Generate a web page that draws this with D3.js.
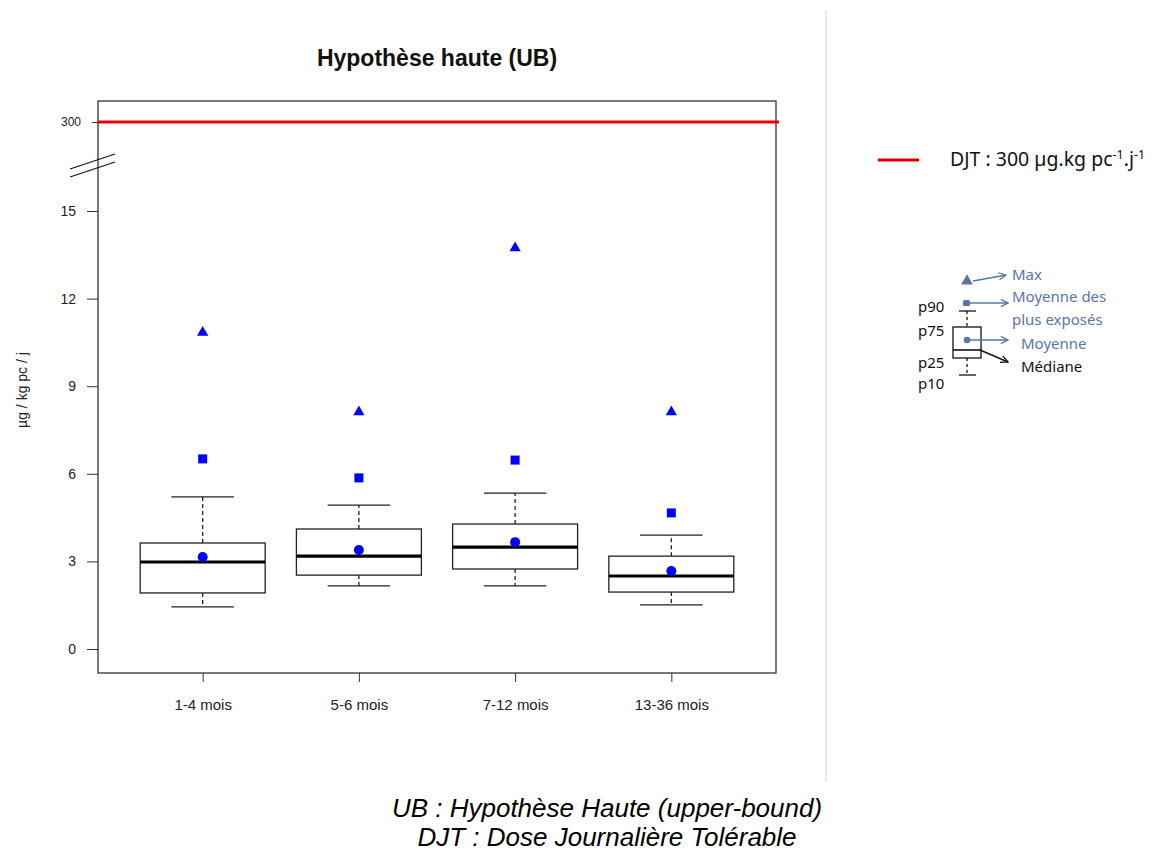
<!DOCTYPE html>
<html>
<head>
<meta charset="utf-8">
<script src="https://cdn.jsdelivr.net/npm/d3@7"></script>
<style>
  body { margin: 0; background: #fff; }
  svg { display: block; }
</style>
</head>
<body>
<div id="chart"></div>
<script>
// values (µg / kg pc / j)
const categories = ["1-4 mois", "5-6 mois", "7-12 mois", "13-36 mois"];
const p10 = [1.44, 2.16, 2.16, 1.51];
const p25 = [1.92, 2.53, 2.74, 1.95];
const median = [2.98, 3.18, 3.49, 2.50];
const p75 = [3.63, 4.11, 4.28, 3.18];
const p90 = [5.21, 4.93, 5.34, 3.90];
const moyenne = [3.15, 3.39, 3.66, 2.67];
const moyennePlusExposes = [6.51, 5.86, 6.47, 4.66];
const maxValues = [10.84, 8.12, 13.73, 8.12];
const yTicks = [0, 3, 6, 9, 12, 15];
const djt = 300;

const width = 1157, height = 851;
const plotLeft = 98, plotRight = 776, plotTop = 101, plotBottom = 673;

const svg = d3.select("#chart").append("svg")
    .attr("width", width)
    .attr("height", height)
    .style("font-family", "'Liberation Sans', Arial, sans-serif");

const x = d3.scalePoint()
    .domain(categories)
    .range([plotLeft, plotRight])
    .padding(0.67);

// broken axis: 0-15 linear, then a jump up to 300
const y = d3.scaleLinear()
    .domain([0, 15, djt])
    .range([649, 211, 122]);

const boxW = x.step() * 0.8;

// title
svg.append("text")
    .attr("x", (plotLeft + plotRight) / 2)
    .attr("y", 66)
    .attr("text-anchor", "middle")
    .attr("font-weight", "bold")
    .attr("font-size", 23)
    .attr("fill", "#111")
    .text("Hypothèse haute (UB)");

// frame
svg.append("rect")
    .attr("x", plotLeft).attr("y", plotTop)
    .attr("width", plotRight - plotLeft).attr("height", plotBottom - plotTop)
    .attr("fill", "none")
    .attr("stroke", "#333")
    .attr("stroke-width", 1.3);

// y axis
const yAxis = svg.append("g")
    .attr("transform", `translate(${plotLeft},0)`)
    .call(d3.axisLeft(y).tickValues(yTicks).tickSize(11).tickPadding(11).tickFormat(d3.format("d")));
yAxis.select(".domain").remove();
yAxis.selectAll("line").attr("stroke", "#333");
yAxis.selectAll("text").attr("font-size", 14).attr("fill", "#222")
    .attr("font-family", "'Liberation Sans', Arial, sans-serif");

const yAxisTop = svg.append("g")
    .attr("transform", `translate(${plotLeft},0)`)
    .call(d3.axisLeft(y).tickValues([djt]).tickSize(6).tickPadding(11));
yAxisTop.select(".domain").remove();
yAxisTop.selectAll("line").attr("stroke", "#333");
yAxisTop.selectAll("text").attr("font-size", 12).attr("fill", "#222")
    .attr("font-family", "'Liberation Sans', Arial, sans-serif");

// break marks
const brk = [[70, 169, 115, 154], [70, 177, 115, 162]];
svg.selectAll("line.brk").data(brk).join("line")
    .attr("class", "brk")
    .attr("x1", d => d[0]).attr("y1", d => d[1])
    .attr("x2", d => d[2]).attr("y2", d => d[3])
    .attr("stroke", "#111")
    .attr("stroke-width", 1.3);

svg.append("text")
    .attr("transform", "translate(27,390) rotate(-90)")
    .attr("text-anchor", "middle")
    .attr("font-size", 14)
    .attr("fill", "#222")
    .text("µg / kg pc / j");

// x axis
const xAxis = svg.append("g")
    .attr("transform", `translate(0,${plotBottom})`)
    .call(d3.axisBottom(x).tickSize(9).tickPadding(17));
xAxis.select(".domain").remove();
xAxis.selectAll("line").attr("stroke", "#333");
xAxis.selectAll("text").attr("font-size", 15).attr("fill", "#222")
    .attr("font-family", "'Liberation Sans', Arial, sans-serif");

// DJT line
svg.append("line")
    .attr("x1", plotLeft).attr("x2", plotRight + 3)
    .attr("y1", y(djt)).attr("y2", y(djt))
    .attr("stroke", "#ee0000")
    .attr("stroke-width", 3);

// boxes
const idx = d3.range(categories.length);
const g = svg.append("g");

g.selectAll("line.whisk-up").data(idx).join("line")
    .attr("x1", i => x(categories[i])).attr("x2", i => x(categories[i]))
    .attr("y1", i => y(p75[i])).attr("y2", i => y(p90[i]))
    .attr("stroke", "#222").attr("stroke-width", 1.3).attr("stroke-dasharray", "4,3");
g.selectAll("line.whisk-dn").data(idx).join("line")
    .attr("x1", i => x(categories[i])).attr("x2", i => x(categories[i]))
    .attr("y1", i => y(p25[i])).attr("y2", i => y(p10[i]))
    .attr("stroke", "#222").attr("stroke-width", 1.3).attr("stroke-dasharray", "4,3");

for (const arr of [p90, p10]) {
    g.append("g").selectAll("line").data(idx).join("line")
        .attr("x1", i => x(categories[i]) - boxW / 4)
        .attr("x2", i => x(categories[i]) + boxW / 4)
        .attr("y1", i => y(arr[i])).attr("y2", i => y(arr[i]))
        .attr("stroke", "#222").attr("stroke-width", 1.3);
}

g.selectAll("rect.box").data(idx).join("rect")
    .attr("x", i => x(categories[i]) - boxW / 2)
    .attr("width", boxW)
    .attr("y", i => y(p75[i]))
    .attr("height", i => y(p25[i]) - y(p75[i]))
    .attr("fill", "#fff")
    .attr("stroke", "#222")
    .attr("stroke-width", 1.3);

g.selectAll("line.med").data(idx).join("line")
    .attr("x1", i => x(categories[i]) - boxW / 2)
    .attr("x2", i => x(categories[i]) + boxW / 2)
    .attr("y1", i => y(median[i])).attr("y2", i => y(median[i]))
    .attr("stroke", "#000").attr("stroke-width", 3.2);

// markers
const blue = "#0000ff";
g.selectAll("circle.mean").data(idx).join("circle")
    .attr("cx", i => x(categories[i])).attr("cy", i => y(moyenne[i]))
    .attr("r", 5).attr("fill", blue);
g.selectAll("rect.mpe").data(idx).join("rect")
    .attr("x", i => x(categories[i]) - 4.5).attr("y", i => y(moyennePlusExposes[i]) - 4.5)
    .attr("width", 9).attr("height", 9).attr("fill", blue);
g.selectAll("path.max").data(idx).join("path")
    .attr("transform", i => `translate(${x(categories[i])},${y(maxValues[i])})`)
    .attr("d", d3.symbol(d3.symbolTriangle, 55))
    .attr("fill", blue);

// separator
svg.append("line")
    .attr("x1", 826).attr("x2", 826).attr("y1", 10).attr("y2", 782)
    .attr("stroke", "#cfcfcf").attr("stroke-width", 1);

// legend: DJT
const legFont = "'Noto Sans', 'Open Sans', sans-serif";
svg.append("line")
    .attr("x1", 878).attr("x2", 919).attr("y1", 160).attr("y2", 160)
    .attr("stroke", "#dd0000").attr("stroke-width", 3);
const djtText = svg.append("text")
    .attr("x", 950).attr("y", 166)
    .attr("font-family", legFont)
    .attr("font-size", 19.5)
    .attr("fill", "#111");
djtText.append("tspan").text("DJT : 300 µg.kg pc");
djtText.append("tspan").attr("dy", -7).attr("font-size", 12.5).text("-1");
djtText.append("tspan").attr("dy", 7).text(".j");
djtText.append("tspan").attr("dy", -7).attr("font-size", 12.5).text("-1");

// legend: box diagram
const lb = "#5b74a6";
const leg = svg.append("g").attr("font-family", legFont).attr("font-size", 15);
svg.append("defs").selectAll("marker").data([["arrB", lb], ["arrK", "#111"]]).join("marker")
    .attr("id", d => d[0])
    .attr("viewBox", "0 0 10 10")
    .attr("refX", 9).attr("refY", 5)
    .attr("markerWidth", 9).attr("markerHeight", 9)
    .attr("markerUnits", "userSpaceOnUse")
    .attr("orient", "auto")
    .append("path")
    .attr("d", "M1,1 L9,5 L1,9")
    .attr("fill", "none")
    .attr("stroke", d => d[1])
    .attr("stroke-width", 1.4);

leg.append("path")
    .attr("transform", "translate(967,281)")
    .attr("d", d3.symbol(d3.symbolTriangle, 60))
    .attr("fill", lb);
leg.append("line").attr("x1", 973).attr("y1", 281).attr("x2", 1006).attr("y2", 275)
    .attr("stroke", lb).attr("stroke-width", 1.4).attr("marker-end", "url(#arrB)");
leg.append("rect").attr("x", 963).attr("y", 300).attr("width", 7).attr("height", 6)
    .attr("rx", 1.5).attr("fill", lb);
leg.append("line").attr("x1", 970).attr("y1", 303).attr("x2", 1008).attr("y2", 303)
    .attr("stroke", lb).attr("stroke-width", 1.4).attr("marker-end", "url(#arrB)");

leg.append("line").attr("x1", 959).attr("x2", 976).attr("y1", 311).attr("y2", 311)
    .attr("stroke", "#111").attr("stroke-width", 1.3);
leg.append("line").attr("x1", 967).attr("x2", 967).attr("y1", 311).attr("y2", 327)
    .attr("stroke", "#111").attr("stroke-width", 1.3).attr("stroke-dasharray", "3,3");
leg.append("rect").attr("x", 953).attr("y", 327).attr("width", 28).attr("height", 31)
    .attr("fill", "#fff").attr("stroke", "#111").attr("stroke-width", 1.3);
leg.append("line").attr("x1", 953).attr("x2", 981).attr("y1", 350).attr("y2", 350)
    .attr("stroke", "#111").attr("stroke-width", 1.6);
leg.append("line").attr("x1", 967).attr("x2", 967).attr("y1", 358).attr("y2", 375)
    .attr("stroke", "#111").attr("stroke-width", 1.3).attr("stroke-dasharray", "3,3");
leg.append("line").attr("x1", 959).attr("x2", 976).attr("y1", 375).attr("y2", 375)
    .attr("stroke", "#111").attr("stroke-width", 1.3);
leg.append("circle").attr("cx", 967).attr("cy", 340).attr("r", 3.3).attr("fill", lb);
leg.append("line").attr("x1", 970).attr("y1", 340).attr("x2", 1008).attr("y2", 340)
    .attr("stroke", lb).attr("stroke-width", 1.4).attr("marker-end", "url(#arrB)");
leg.append("line").attr("x1", 980).attr("y1", 350).attr("x2", 1008).attr("y2", 362)
    .attr("stroke", "#111").attr("stroke-width", 1.4).attr("marker-end", "url(#arrK)");

const legTexts = [
    ["Max", 1012, 280, lb],
    ["Moyenne des", 1012, 302, lb],
    ["plus exposés", 1012, 325, lb],
    ["Moyenne", 1021, 349, lb],
    ["Médiane", 1021, 372, "#111"],
    ["p90", 918, 312, "#111"],
    ["p75", 918, 336, "#111"],
    ["p25", 918, 368, "#111"],
    ["p10", 918, 389, "#111"]
];
leg.selectAll("text").data(legTexts).join("text")
    .attr("x", d => d[1]).attr("y", d => d[2])
    .attr("fill", d => d[3])
    .text(d => d[0]);

// caption
const cap = svg.append("g")
    .attr("font-style", "italic")
    .attr("font-size", 26)
    .attr("fill", "#000")
    .attr("text-anchor", "middle");
cap.append("text").attr("x", 607).attr("y", 817).text("UB : Hypothèse Haute (upper-bound)");
cap.append("text").attr("x", 607).attr("y", 846).text("DJT : Dose Journalière Tolérable");
</script>
</body>
</html>
